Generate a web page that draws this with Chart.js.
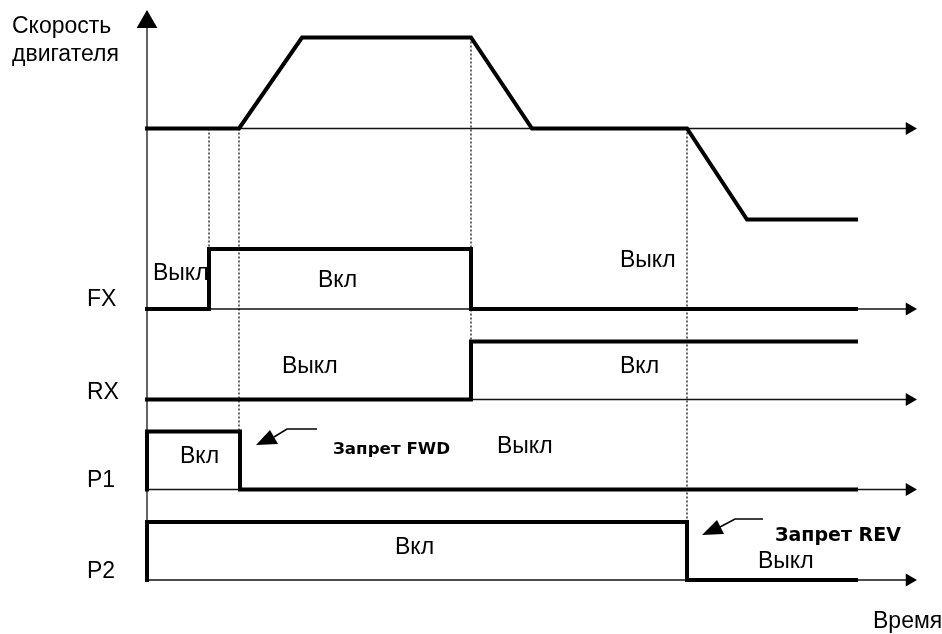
<!DOCTYPE html>
<html>
<head>
<meta charset="utf-8">
<script src="https://cdn.jsdelivr.net/npm/chart.js@4/dist/chart.umd.min.js"></script>
<style>
  html, body { margin: 0; padding: 0; background: #fff; }
  #wrap { width: 942px; height: 634px; position: relative; }
</style>
</head>
<body>
<div id="wrap"><canvas id="diagram"></canvas></div>
<script>
// time points (arbitrary units) and signal levels
var speedT = [0, 9.2, 15.5, 32.4, 38.5, 54, 60, 70.9];
var speedV = [0, 0, 1, 1, 0, 0, -1, -1];
var fxT = [0, 6.2, 6.2, 32.4, 32.4, 70.9];
var fxV = [0, 0, 1, 1, 0, 0];
var rxT = [0, 32.4, 32.4, 70.9];
var rxV = [0, 0, 1, 1];
var p1T = [0, 0, 9.3, 9.3, 70.9];
var p1V = [0, 1, 1, 0, 0];
var p2T = [0, 0, 54, 54, 70.9];
var p2V = [0, 1, 1, 0, 0];

// switching moments marked with dotted lines: time, from track/level, to track/level
var markT = [6.2, 9.2, 32.4, 54];
var markFrom = [['speed', 0], ['speed', 0], ['speed', 1], ['speed', 0]];
var markTo = [['FX', 1], ['P1', 1], ['RX', 1], ['P2', 1]];

var trackNames = ['FX', 'RX', 'P1', 'P2'];
var axisEnd = 76.25;

// layout of the tracks (vertical position of baseline and height of a level)
var track = {
    speed: { base: 128.5, amp: 91 },
    FX: { base: 309, amp: 60 },
    RX: { base: 399.5, amp: 58 },
    P1: { base: 489.5, amp: 58 },
    P2: { base: 580, amp: 58 }
};

function lvl(name, v) {
    return track[name].base - track[name].amp * v;
}

function pts(name, ts, vs) {
    return ts.map(function (t, i) { return { x: t, y: lvl(name, vs[i]) }; });
}

var datasets = [];

// thick signal traces
[['speed', speedT, speedV], ['FX', fxT, fxV], ['RX', rxT, rxV], ['P1', p1T, p1V], ['P2', p2T, p2V]].forEach(function (s) {
    datasets.push({
        data: pts(s[0], s[1], s[2]),
        borderColor: '#000',
        borderWidth: 4,
        pointRadius: 0,
        borderJoinStyle: 'miter',
        borderCapStyle: 'square',
        order: 0
    });
});

// dotted markers
markT.forEach(function (t, i) {
    datasets.push({
        data: [{ x: t, y: lvl(markFrom[i][0], markFrom[i][1]) }, { x: t, y: lvl(markTo[i][0], markTo[i][1]) }],
        borderColor: '#000',
        borderWidth: 1.2,
        borderDash: [2, 2],
        pointRadius: 0,
        order: 1
    });
});

// thin time axes with arrows
['speed'].concat(trackNames).forEach(function (name) {
    datasets.push({
        data: [{ x: 0, y: track[name].base }, { x: axisEnd, y: track[name].base }],
        borderColor: '#111',
        borderWidth: 1.3,
        pointRadius: [0, 7.5],
        pointStyle: 'triangle',
        pointRotation: 90,
        pointBackgroundColor: '#000',
        pointBorderWidth: 0,
        order: 2
    });
});

// vertical speed axis
datasets.push({
    data: [{ x: 0, y: track.P2.base }, { x: 0, y: 22 }],
    borderColor: '#111',
    borderWidth: 1.3,
    pointRadius: [0, 12],
    pointStyle: 'triangle',
    pointRotation: 0,
    pointBackgroundColor: '#000',
    pointBorderWidth: 0,
    order: 2
});

var plainFont = '23px "Liberation Sans", Arial, sans-serif';
var labels = [
    { text: 'Скорость', t: -13.5, y: 33 },
    { text: 'двигателя', t: -13.5, y: 61 },
    { text: 'FX', t: -6.0, y: 306 },
    { text: 'RX', t: -6.0, y: 399 },
    { text: 'P1', t: -6.0, y: 487 },
    { text: 'P2', t: -6.0, y: 578 },
    { text: 'Выкл', t: 0.6, y: 280 },
    { text: 'Вкл', t: 17.1, y: 287 },
    { text: 'Выкл', t: 13.5, y: 373 },
    { text: 'Выкл', t: 47.3, y: 267 },
    { text: 'Вкл', t: 47.3, y: 373 },
    { text: 'Вкл', t: 3.3, y: 463 },
    { text: 'Выкл', t: 35.0, y: 453 },
    { text: 'Вкл', t: 24.8, y: 554 },
    { text: 'Выкл', t: 61.1, y: 568 },
    { text: 'Время', t: 72.6, y: 628 },
    { text: 'Запрет FWD', t: 18.6, y: 454, font: 'bold 16.7px "DejaVu Sans", sans-serif' },
    { text: 'Запрет REV', t: 62.8, y: 541, font: 'bold 19px "DejaVu Sans", sans-serif' }
];

// pointer arrows next to "Запрет" labels: triangle + leader line (in scale units)
var pointers = [
    { tri: [[10.9, 445], [13.1, 444], [12.3, 430]], line: [[12.7, 437], [14.0, 429], [17.0, 429]] },
    { tri: [[55.5, 535], [57.7, 534], [57.0, 520]], line: [[57.3, 527], [58.8, 519], [61.6, 519]] }
];

var annotatePlugin = {
    id: 'annotate',
    afterDatasetsDraw: function (chart) {
        var ctx = chart.ctx;
        var xs = chart.scales.x, ys = chart.scales.y;
        ctx.save();
        ctx.fillStyle = '#000';
        ctx.strokeStyle = '#000';
        pointers.forEach(function (p) {
            ctx.beginPath();
            p.tri.forEach(function (q, i) {
                var px = xs.getPixelForValue(q[0]), py = ys.getPixelForValue(q[1]);
                if (i === 0) ctx.moveTo(px, py); else ctx.lineTo(px, py);
            });
            ctx.closePath();
            ctx.fill();
            ctx.beginPath();
            ctx.lineWidth = 1.5;
            p.line.forEach(function (q, i) {
                var px = xs.getPixelForValue(q[0]), py = ys.getPixelForValue(q[1]);
                if (i === 0) ctx.moveTo(px, py); else ctx.lineTo(px, py);
            });
            ctx.stroke();
        });
        ctx.textAlign = 'left';
        ctx.textBaseline = 'alphabetic';
        labels.forEach(function (l) {
            ctx.font = l.font || plainFont;
            ctx.fillText(l.text, xs.getPixelForValue(l.t), ys.getPixelForValue(l.y));
        });
        ctx.restore();
    }
};

var canvas = document.getElementById('diagram');

var config = {
    type: 'line',
    data: { datasets: datasets },
    options: {
        responsive: true,
        maintainAspectRatio: false,
        animation: false,
        layout: { padding: 0, autoPadding: false },
        plugins: { legend: { display: false }, tooltip: { enabled: false } },
        scales: {
            x: { type: 'linear', min: -14.7, max: 79.5, display: false },
            y: { type: 'linear', min: 0, max: 634, reverse: true, display: false }
        }
    },
    plugins: [annotatePlugin]
};

var diagram = new Chart(canvas, config);
</script>
</body>
</html>
